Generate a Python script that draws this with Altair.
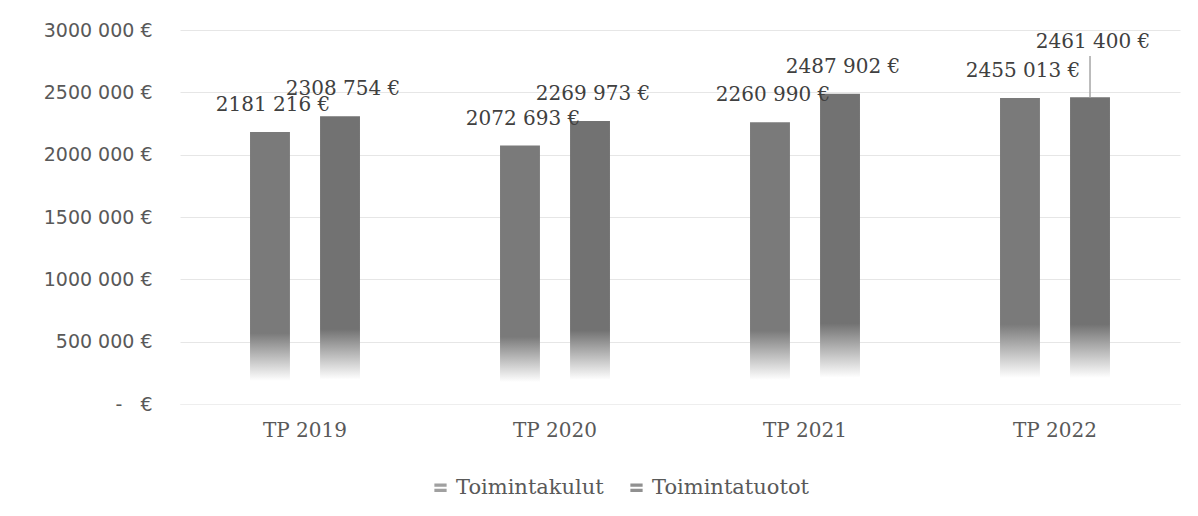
import altair as alt
import pandas as pd

categories = ["TP 2019", "TP 2020", "TP 2021", "TP 2022"]
series = ["Toimintakulut", "Toimintatuotot"]
kulut = [2181216, 2072693, 2260990, 2455013]
tuotot = [2308754, 2269973, 2487902, 2461400]


def fmt(v):
    return f"{v // 1000} {v % 1000:03d} €"


rows = []
for c, k, t in zip(categories, kulut, tuotot):
    rows.append({"cat": c, "series": series[0], "value": k, "label": fmt(k)})
    rows.append({"cat": c, "series": series[1], "value": t, "label": fmt(t)})
df = pd.DataFrame(rows)

SERIF = "DejaVu Serif"
SANS = "DejaVu Sans"
TXT = "#595959"


def grad(col):
    return alt.Gradient(
        gradient="linear",
        stops=[
            alt.GradientStop(color=col, offset=0),
            alt.GradientStop(color=col, offset=0.74),
            alt.GradientStop(color="#ffffff", offset=0.915),
            alt.GradientStop(color="#ffffff", offset=1),
        ],
        x1=0, x2=0, y1=0, y2=1,
    )


x_enc = alt.X(
    "cat:N",
    sort=categories,
    title=None,
    scale=alt.Scale(paddingInner=0, paddingOuter=0),
    axis=alt.Axis(
        labelAngle=0, labelFont=SERIF, labelFontSize=20, labelColor=TXT,
        labelPadding=16, ticks=False, domain=True, domainColor="#eeeeee",
        grid=False,
    ),
)
y_scale = alt.Scale(domain=[0, 3000000], nice=False)
y_enc = alt.Y(
    "value:Q",
    scale=y_scale,
    title=None,
    axis=alt.Axis(
        values=[0, 500000, 1000000, 1500000, 2000000, 2500000, 3000000],
        labelExpr="datum.value == 0 ? '-\u00a0\u00a0\u00a0€' : (floor(datum.value/1000) + ' 000 €')",
        labelFont=SANS, labelFontSize=19, labelColor=TXT, labelPadding=28,
        ticks=False, domain=False, grid=True, gridColor="#e6e6e6",
    ),
)
xoff = alt.XOffset("series:N", sort=series,
                   scale=alt.Scale(domain=series, paddingInner=0.43, paddingOuter=1.0))

base = alt.Chart(df)

bars_k = base.transform_filter(alt.datum.series == series[0]).mark_bar(
    fill=grad("#7a7a7a")
).encode(x=x_enc, xOffset=xoff, y=y_enc)

bars_t = base.transform_filter(alt.datum.series == series[1]).mark_bar(
    fill=grad("#727272")
).encode(x=x_enc, xOffset=xoff, y=y_enc)

special = (alt.datum.cat == "TP 2022") & (alt.datum.series == series[1])

labels = base.transform_filter(~special).mark_text(
    font=SERIF, fontSize=20, color="#404040", dy=-27, dx=3, baseline="middle"
).encode(x=x_enc, xOffset=xoff, y=y_enc, text="label:N")

labels_sp = base.transform_filter(special).mark_text(
    font=SERIF, fontSize=20, color="#404040", dy=-55, dx=3, baseline="middle"
).encode(x=x_enc, xOffset=xoff, y=y_enc, text="label:N")

leader = base.transform_filter(special).transform_calculate(
    top="datum.value + 330000"
).mark_rule(color="#a6a6a6", strokeWidth=1.5, xOffset=-2).encode(
    x=x_enc, xOffset=xoff, y=y_enc, y2="top:Q"
)

legend_layer = base.mark_square(size=0, opacity=0).encode(
    x=x_enc,
    y=y_enc,
    color=alt.Color(
        "series:N",
        sort=series,
        scale=alt.Scale(domain=series, range=["#a0a0a0", "#909090"]),
        legend=alt.Legend(
            title=None, orient="none", direction="horizontal",
            legendX=250, legendY=447,
            labelFont=SERIF, labelFontSize=21, labelColor=TXT,
            symbolType="M-1,-0.7H1V-0.15H-1Z M-1,0.15H1V0.7H-1Z",
            symbolSize=150, symbolOpacity=1,
            symbolStrokeWidth=0, columnPadding=22, labelOffset=5,
        ),
    ),
)

chart = alt.layer(bars_k, bars_t, leader, labels, labels_sp, legend_layer).properties(
    width=1000,
    height=374,
    background="white",
    autosize=alt.AutoSizeParams(type="none"),
    padding={"left": 172, "top": 22, "right": 10, "bottom": 104},
).configure_view(stroke=None)

chart.save("out.html", embed_options={"renderer": "svg", "actions": False})
